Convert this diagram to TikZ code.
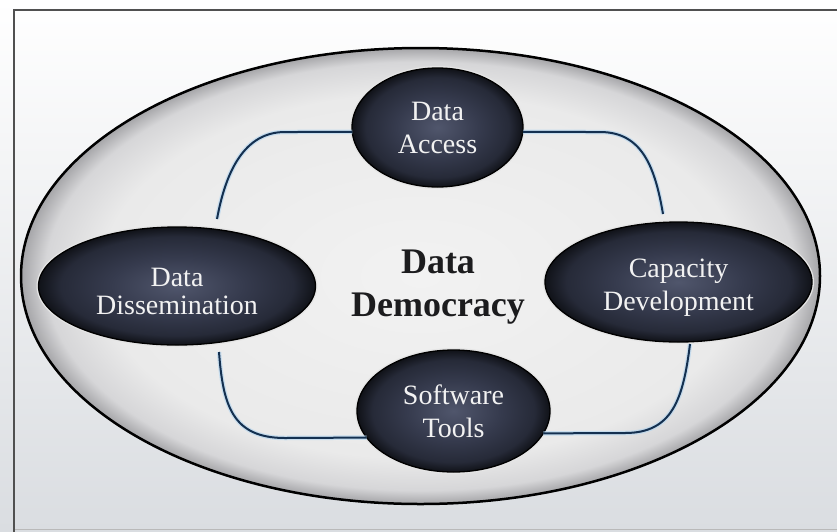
\documentclass[tikz,border=0pt]{standalone}
\usepackage{fontspec}
\setmainfont{Liberation Serif}
\usetikzlibrary{shapes.geometric}
\definecolor{bgbot}{RGB}{218,221,225}
\definecolor{framec}{RGB}{80,80,80}
\definecolor{bgA}{RGB}{242,242,242}
\definecolor{bgB}{RGB}{234,234,234}
\definecolor{bgC}{RGB}{214,214,216}
\definecolor{bgD}{RGB}{165,165,168}
\definecolor{dkA}{RGB}{80,86,108}
\definecolor{dkB}{RGB}{54,59,78}
\definecolor{dkC}{RGB}{38,42,56}
\definecolor{dkD}{RGB}{16,18,24}
\definecolor{connc}{RGB}{20,48,80}
\definecolor{glowc}{RGB}{176,212,240}
\definecolor{txtlight}{RGB}{242,242,242}
\definecolor{txtdark}{RGB}{28,28,30}
\pgfdeclareradialshading{bigshade}{\pgfpoint{0bp}{0bp}}{color(0bp)=(bgA); color(20bp)=(bgB); color(23.5bp)=(bgC); color(25bp)=(bgD); color(50bp)=(bgD)}
\pgfdeclareradialshading{darkshade}{\pgfpoint{0bp}{0bp}}{color(0bp)=(dkA); color(12bp)=(dkB); color(21bp)=(dkC); color(25bp)=(dkD); color(50bp)=(dkD)}
\tikzset{
  bigell/.style={ellipse, draw=black, line width=2.5pt, shading=bigshade, inner sep=0pt, outer sep=0pt},
  darkell/.style={ellipse, draw=black, line width=1.3pt, shading=darkshade, inner sep=0pt, outer sep=0pt,
     preaction={draw=white!80!gray, line width=4pt},
     text=txtlight, align=center, font=\fontsize{28}{33}\selectfont},
  conn/.style={draw=connc, line width=2pt, preaction={draw=glowc, line width=4.5pt, opacity=0.6}},
  centertxt/.style={align=center, text=txtdark, font=\bfseries\fontsize{36}{43}\selectfont}
}
\begin{document}
\begin{tikzpicture}[x=1pt,y=-1pt]
\useasboundingbox (0,0) rectangle (837,531);
% background
\shade[top color=white, bottom color=bgbot] (0,0) rectangle (837,531);
\draw[gray!55, line width=1pt] (14,529) -- (845,529);
\draw[framec, line width=2pt] (845,10) -- (14,10) -- (14,545);
% outer ellipse
\node[bigell, minimum width=799pt, minimum height=456pt] (outer) at (420.5,276) {};
% centre text
\node[centertxt] (title) at (438,287) {Data\\Democracy};
% named free ends
\coordinate (tl) at (217,219);
\coordinate (tr) at (663,214);
\coordinate (bl) at (219,352);
\coordinate (br) at (690,344);
% satellites
\node[darkell, minimum width=171pt, minimum height=119pt] (acc) at (437.5,127.5) {Data\\Access};
\node[darkell, minimum width=277pt, minimum height=118pt, font=\fontsize{28}{28}\selectfont] (dis) at (177,286) {\rule{0pt}{30pt}Data\\Dissemination};
\node[darkell, minimum width=267pt, minimum height=120pt] (cap) at (678.5,282) {\rule{0pt}{29pt}Capacity\\Development};
\node[darkell, minimum width=193pt, minimum height=122pt] (sw) at (453.5,411) {Software\\Tools};
% connectors
\draw[conn] (acc.183) -- (285,132) .. controls (245,132) and (226,170) .. (tl);
\draw[conn] (acc.-3) -- (600,132) .. controls (642,132) and (655,167) .. (tr);
\draw[conn] (bl) .. controls (223,405) and (232,438) .. (285,438) -- (sw.197);
\draw[conn] (br) .. controls (683,400) and (672,433) .. (625,433) -- (sw.-14);
\end{tikzpicture}
\end{document}
